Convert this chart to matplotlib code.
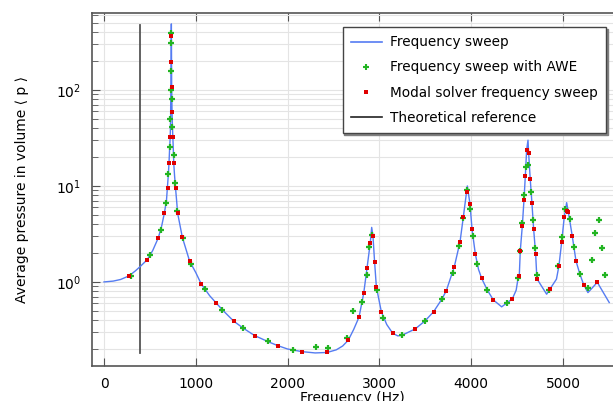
import numpy as np
import matplotlib
matplotlib.use("Agg")
import matplotlib.pyplot as plt
from matplotlib.lines import Line2D

# ── data ───────────────────────────────────────────────────────
sweep_freq = [0, 100, 180, 272, 340, 392, 472, 530, 592, 630, 657, 680, 690,
              701, 708, 715, 721, 725, 728, 731, 732.5, 733.5, 734.5, 735.5,
              737, 739, 741, 745, 750, 757, 760, 768, 779, 790, 802, 853, 933,
              1000, 1057, 1150, 1224, 1300, 1413, 1518, 1641, 1790, 1892, 2000,
              2153, 2300, 2429, 2530, 2600, 2661, 2720, 2778, 2829, 2865, 2901,
              2916, 2930, 2948, 2967, 3021, 3080, 3145, 3200, 3246, 3391, 3500,
              3591, 3682, 3729, 3816, 3878, 3914, 3958, 3987, 4009, 4045, 4080,
              4114, 4175, 4241, 4332, 4448, 4490, 4510, 4524, 4535, 4557, 4575,
              4590, 4604, 4619, 4626, 4643, 4662, 4680, 4702, 4716, 4822, 4929,
              4956, 4986, 5014, 5040, 5058, 5101, 5142, 5185, 5225, 5272, 5374,
              5504]
sweep_p = [1.0, 1.02, 1.06, 1.155, 1.3, 1.44, 1.71, 2.12, 2.89, 3.9, 5.2, 7.0,
           9.5, 13.3, 17.5, 25, 32, 50, 100, 200, 365, 488, 330, 195, 107, 81,
           59, 41.5, 32, 21, 17, 13, 9.5, 7.2, 5.2, 2.92, 1.64, 1.25, 0.96,
           0.72, 0.60, 0.50, 0.39, 0.329, 0.276, 0.238, 0.217, 0.20, 0.188,
           0.182, 0.184, 0.196, 0.215, 0.247, 0.32, 0.43, 0.76, 1.39, 2.57, 3.7,
           3.0, 1.6, 0.887, 0.49, 0.36, 0.292, 0.274, 0.278, 0.324, 0.395, 0.49,
           0.665, 0.81, 1.44, 2.6, 4.72, 10.0, 6.49, 3.56, 1.96, 1.35, 1.09,
           0.825, 0.65, 0.55, 0.665, 0.82, 1.08, 1.155, 2.12, 3.83, 7.1, 12.8,
           23.7, 30.0, 21.9, 11.9, 6.6, 3.59, 1.97, 1.08, 0.745, 1.07, 1.47,
           2.61, 4.76, 6.7, 5.4, 3.01, 1.65, 1.2, 0.94, 0.774, 0.99, 0.61]

awe_freq = [297, 501, 617, 679, 701, 715, 724, 728, 733, 734, 735, 739, 745,
            757, 773, 798, 860, 948, 1097, 1285, 1518, 1790, 2059, 2309, 2437,
            2651, 2716, 2810, 2861, 2890, 2919, 2970, 3035, 3246, 3500, 3682,
            3802, 3871, 3910, 3958, 3990, 4020, 4067, 4175, 4386, 4510, 4535,
            4557, 4579, 4600, 4622, 4647, 4669, 4695, 4713, 4847, 4945, 4993,
            5022, 5073, 5116, 5185, 5272, 5311, 5352, 5396, 5428, 5461]
awe_p = [1.15, 1.90, 3.48, 6.7, 13.3, 25.7, 50, 100, 390, 309, 158, 81, 41.5,
         21, 10.8, 5.5, 2.9, 1.54, 0.845, 0.507, 0.329, 0.245, 0.196, 0.209,
         0.204, 0.263, 0.50, 0.614, 1.19, 2.33, 3.11, 0.82, 0.42, 0.278, 0.395,
         0.665, 1.24, 2.37, 4.6, 9.1, 5.76, 2.99, 1.54, 0.825, 0.60, 1.10, 2.1,
         4.15, 8.06, 15.8, 16.6, 8.66, 4.43, 2.26, 1.17, 0.82, 1.48, 2.94,
         5.72, 4.5, 2.31, 1.21, 0.87, 1.68, 3.26, 4.43, 2.28, 1.18]

modal_freq = [272, 472, 592, 657, 693, 708, 722, 732, 735, 736, 741, 750, 759,
              781, 802, 853, 933, 1057, 1224, 1413, 1641, 1892, 2153, 2429,
              2661, 2778, 2829, 2865, 2901, 2930, 2948, 2967, 3021, 3145, 3391,
              3591, 3729, 3816, 3878, 3914, 3954, 3987, 4009, 4045, 4114, 4241,
              4448, 4524, 4535, 4557, 4575, 4590, 4604, 4626, 4643, 4662, 4680,
              4702, 4716, 4858, 4956, 4986, 5014, 5044, 5058, 5101, 5142, 5225,
              5374]
modal_p = [1.155, 1.71, 2.89, 5.2, 9.5, 17.5, 32, 365, 195, 107, 59, 32, 17.5,
           9.5, 5.2, 2.92, 1.64, 0.96, 0.60, 0.39, 0.276, 0.217, 0.188, 0.184,
           0.247, 0.429, 0.762, 1.39, 2.57, 3.01, 1.60, 0.887, 0.49, 0.292,
           0.324, 0.49, 0.81, 1.44, 2.61, 4.72, 8.6, 6.49, 3.56, 1.96, 1.09,
           0.65, 0.665, 1.155, 2.12, 3.83, 7.1, 12.8, 23.7, 21.9, 11.9, 6.6,
           3.59, 1.97, 1.08, 0.846, 1.47, 2.61, 4.76, 5.53, 5.4, 3.01, 1.65,
           0.94, 0.99]

ref_freq = 392
ref_p = [0.18, 480]

# ── colours ────────────────────────────────────────────────────
C_SWEEP = "#557cf2"
C_AWE   = "#22b422"
C_MODAL = "#e00000"
C_REF   = "#555555"
C_SPINE = "#555555"

fig = plt.figure(figsize=(6.13, 4.01), dpi=100)
ax = fig.add_axes([92 / 613, 35.3 / 401, 1 - 92 / 613, 352.7 / 401])

ax.plot(sweep_freq, sweep_p, color=C_SWEEP, lw=1.0, zorder=3)
ax.plot(awe_freq, awe_p, ls="none", marker="+", ms=5, mew=1.6,
        color=C_AWE, zorder=4)
ax.plot(modal_freq, modal_p, ls="none", marker="s", ms=3.4, mew=0,
        color=C_MODAL, zorder=5)
ax.plot([ref_freq, ref_freq], ref_p, color=C_REF, lw=1.3, zorder=2)

ax.set_yscale("log")
ax.set_xlim(-131, 5545)
ax.set_ylim(0.134, 634)

ax.set_xticks([0, 1000, 2000, 3000, 4000, 5000])
ax.grid(True, which="major", axis="x", color="#e4e4e4", lw=0.8)
ax.grid(True, which="both", axis="y", color="#e4e4e4", lw=0.8)
ax.set_axisbelow(True)

ax.tick_params(axis="x", which="both", direction="in", top=True,
               labelsize=10, pad=8, length=6, color=C_SPINE)
ax.tick_params(axis="y", which="major", direction="in", labelsize=10,
               pad=8, length=6, color=C_SPINE)
ax.tick_params(axis="y", which="minor", direction="in", length=4,
               color=C_SPINE)

for side in ("left", "bottom", "top"):
    ax.spines[side].set_color(C_SPINE)
    ax.spines[side].set_linewidth(1.2)
ax.spines["right"].set_visible(False)

ax.set_xlabel("Frequency (Hz)", fontsize=10, labelpad=0)
ax.set_ylabel("Average pressure in volume \u27e8 p \u27e9", fontsize=10,
              labelpad=19)

handles = [
    Line2D([], [], color=C_SWEEP, lw=1.2),
    Line2D([], [], ls="none", marker="+", ms=4, mew=1.5, color=C_AWE),
    Line2D([], [], ls="none", marker="s", ms=2.8, mew=0, color=C_MODAL),
    Line2D([], [], color="#222222", lw=1.2),
]
labels = ["Frequency sweep", "Frequency sweep with AWE",
          "Modal solver frequency sweep", "Theoretical reference"]
leg = ax.legend(handles, labels, loc="upper right",
                bbox_to_anchor=(0.987, 0.96), borderaxespad=0,
                fontsize=9.8, fancybox=False, framealpha=1,
                shadow={"ox": 1.2, "oy": -1.2, "color": "0.5", "alpha": 1},
                handlelength=2.3, handletextpad=0.6, labelspacing=0.82,
                borderpad=0.6)
leg.get_frame().set_edgecolor("#444444")
leg.get_frame().set_linewidth(1.0)

fig.savefig("out.png", dpi=100)
